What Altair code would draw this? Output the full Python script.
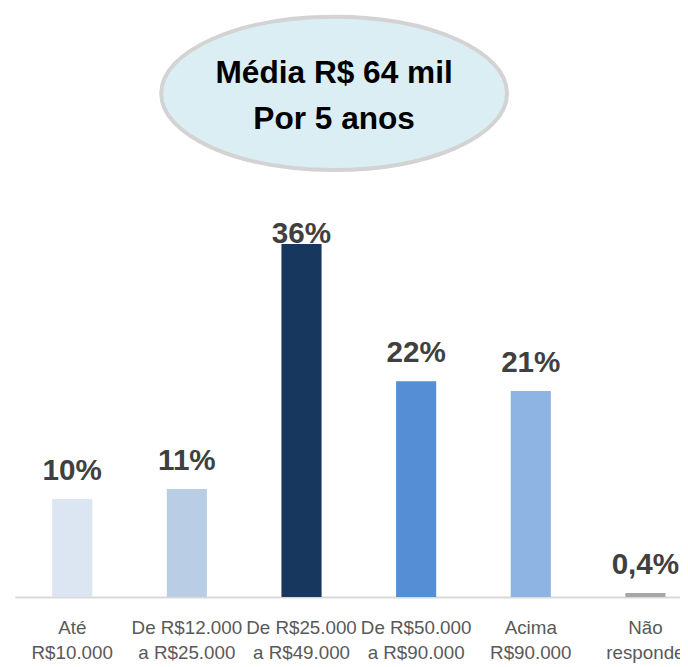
import altair as alt
import pandas as pd

categories = ["Até|R$10.000", "De R$12.000|a R$25.000", "De R$25.000|a R$49.000",
              "De R$50.000|a R$90.000", "Acima|R$90.000", "Não|responde"]
values = [10, 11, 36, 22, 21, 0.4]
labels = ["10%", "11%", "36%", "22%", "21%", "0,4%"]
colors = ["#DCE6F2", "#B9CDE5", "#17375E", "#558ED5", "#8EB4E3", "#A6A6A6"]
title_lines = ["Média R$ 64 mil", "Por 5 anos"]

FONT = "Liberation Sans, Arial"

df = pd.DataFrame({"cat": categories, "pct": values, "label": labels})

x = alt.X("cat:N", sort=categories,
          scale=alt.Scale(range=[0, 696], paddingInner=0.65, paddingOuter=0.325),
          axis=alt.Axis(title=None, labelAngle=0, ticks=False, tickSize=0,
                        domainColor="#D9D9D9", domainWidth=2,
                        labelFont=FONT, labelFontSize=19, labelColor="#595959",
                        labelLineHeight=25, labelPadding=22,
                        labelExpr="split(datum.label, '|')"))
y = alt.Y("pct:Q", scale=alt.Scale(domain=[0, 587 / 9.92], nice=False), axis=None)

base = alt.Chart(df)

bars = base.mark_bar().encode(
    x=x, y=y,
    color=alt.Color("cat:N", sort=categories,
                    scale=alt.Scale(domain=categories, range=colors), legend=None),
)

txt_kw = dict(font=FONT, fontSize=30, fontWeight="bold", color="#404040",
              baseline="alphabetic", align="center")
text_low = base.transform_filter("datum.pct < 30").mark_text(dy=-19, **txt_kw).encode(
    x=x, y=y, text="label:N")
text_high = base.transform_filter("datum.pct >= 30").mark_text(dy=-1, **txt_kw).encode(
    x=x, y=y, text="label:N")

ellipse_path = ("M-1,0C-1,-0.2447,-0.5523,-0.443,0,-0.443C0.5523,-0.443,1,-0.2447,1,0"
                "C1,0.2447,0.5523,0.443,0,0.443C-0.5523,0.443,-1,0.2447,-1,0Z")
bubble_df = pd.DataFrame({"t": [0]})
ellipse = alt.Chart(bubble_df).mark_point(
    shape=ellipse_path, size=350 * 350, filled=True, fill="#DBEEF4",
    stroke="#D3D3D3", strokeWidth=4, opacity=1, fillOpacity=1, strokeOpacity=1,
).encode(x=alt.value(323), y=alt.value(77.5))

title = alt.Chart(bubble_df).mark_text(
    font=FONT, fontSize=32, fontWeight="bold", color="#000000",
    align="center", baseline="alphabetic", lineHeight=47,
).encode(x=alt.value(323), y=alt.value(67), text=alt.value(title_lines))

chart = alt.layer(ellipse, title, bars, text_low, text_high).properties(
    width=673, height=587,
    autosize=alt.AutoSizeParams(type="none"),
    padding={"left": 7, "top": 5, "right": 0, "bottom": 67},
    background="white",
).configure_view(stroke=None)

chart.save("out.html", embed_options={"renderer": "svg", "actions": False})
